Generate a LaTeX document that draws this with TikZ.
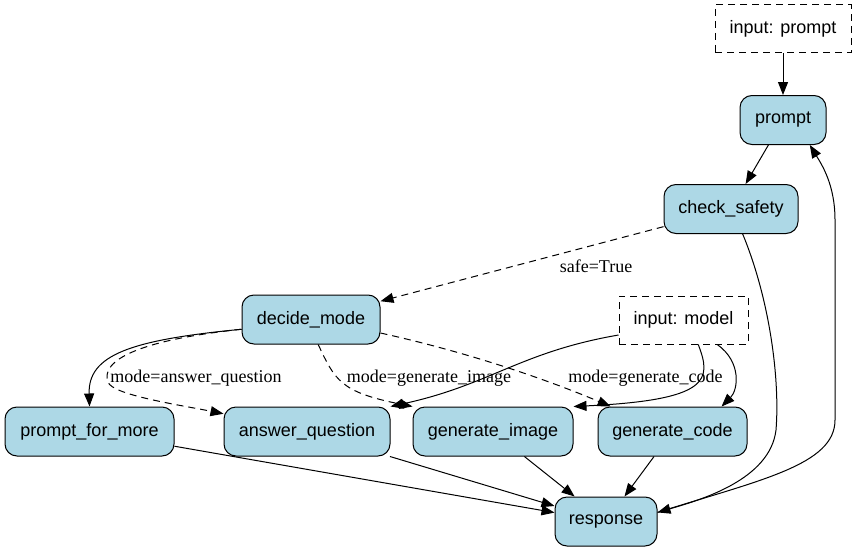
\documentclass[tikz,border=0pt]{standalone}
\usepackage{fontspec}
\setmainfont{Liberation Sans}
\newfontfamily\lblfont{Liberation Serif}
\usetikzlibrary{arrows.meta}
\definecolor{nodeblue}{RGB}{173,216,230}

\begin{document}
\begin{tikzpicture}[x=1pt,y=-1pt,line width=1pt,>={Triangle[length=13pt,width=10pt]},
  fn/.style={draw,fill=nodeblue,rounded corners=12pt,minimum height=49pt,inner sep=0pt,font=\fontsize{18}{20}\selectfont},
  inp/.style={draw,dash pattern=on 7pt off 5pt,minimum height=48pt,inner sep=0pt,font=\fontsize{18}{20}\selectfont},
  lbl/.style={inner sep=0pt,font=\lblfont\fontsize{18}{20}\selectfont}]
\useasboundingbox (0,0) rectangle (856,551);
\node[inp,minimum width=136pt] (inprompt) at (783,29) {input: prompt};
\node[fn,minimum width=86pt] (prompt) at (783,120) {prompt};
\node[fn,minimum width=134pt] (safety) at (731,209) {check\_safety};
\node[fn,minimum width=138pt] (decide) at (311,319.5) {decide\_mode};
\node[inp,minimum width=129pt] (inmodel) at (683.5,320) {input: model};
\node[fn,minimum width=169pt] (more) at (89.5,431.5) {prompt\_for\_more};
\node[fn,minimum width=166pt] (answer) at (307,431.5) {answer\_question};
\node[fn,minimum width=160pt] (image) at (493,431.5) {generate\_image};
\node[fn,minimum width=149pt] (code) at (672.5,431.5) {generate\_code};
\node[fn,minimum width=102pt] (response) at (606,521.5) {response};
% edge labels
\node[lbl] (lsafe) at (596,266) {safe=True};
\node[lbl] (lanswer) at (196,378) {mode=answer\_question};
\node[lbl] (limage) at (429,378) {mode=generate\_image};
\node[lbl] (lcode) at (645.5,378) {mode=generate\_code};
% edges
\draw[->] (inprompt) -- (prompt);
\draw[->] (prompt) -- (safety);
\draw[->,dash pattern=on 7pt off 5pt] (safety) -- (decide);
\draw[->] (safety.-65) .. controls (770,300) and (780,380) .. (776,430) .. controls (770,480) and (700,500) .. (response.10);
\draw[->] (response.10) .. controls (760,480) and (835,465) .. (835,420) -- (835,220) .. controls (835,185) and (822,165) .. (prompt.-43);
\draw[->] (decide.188) .. controls (130,340) and (88,355) .. (more.north);
\draw[->,dash pattern=on 7pt off 5pt] (decide.188) .. controls (140,340) and (100,360) .. (108,382) .. controls (112,395) and (180,405) .. (answer.168);
\draw[->,dash pattern=on 7pt off 5pt] (decide.-74) .. controls (335,380) and (340,392) .. (image.north west);
\draw[->,dash pattern=on 7pt off 5pt] (decide.-11) .. controls (480,355) and (560,385) .. (code.158);
\draw[->] (inmodel.193) .. controls (520,352) and (490,385) .. (answer.north east);
\draw[->] (inmodel.-59) .. controls (712,380) and (710,400) .. (image.north east);
\draw[->] (inmodel.-36) .. controls (742,362) and (738,390) .. (code.27);
\draw[->] (more) -- (response);
\draw[->] (answer) -- (response);
\draw[->] (image) -- (response);
\draw[->] (code) -- (response);
\end{tikzpicture}
\end{document}
